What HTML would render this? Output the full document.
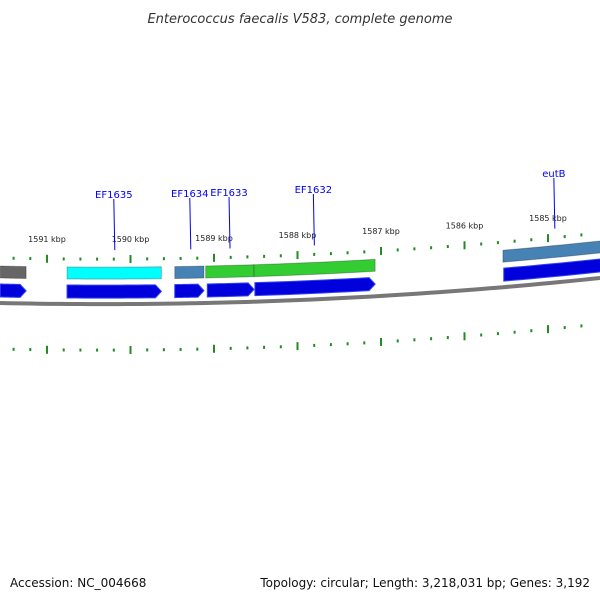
<!DOCTYPE html>
<html><head><meta charset="utf-8"><style>
body{margin:0;background:#fff}
svg{display:block;font-family:"DejaVu Sans","Liberation Sans",sans-serif}
</style></head><body>
<svg id="map" width="600" height="600" viewBox="0 0 600 600">
<text x="300" y="23" text-anchor="middle" font-size="13" font-style="italic" fill="#333">Enterococcus faecalis V583, complete genome</text>
<text x="10" y="587" font-size="12" fill="#111">Accession: NC_004668</text>
<text x="590" y="587" text-anchor="end" font-size="12" fill="#111">Topology: circular; Length: 3,218,031 bp; Genes: 3,192</text>
<g id="g"></g>
</svg>
<script>
// data (kbp)
const tickMajors = [1591,1590,1589,1588,1587,1586,1585];
const topGeneStarts = [1591.56,1590.76,1589.47,1589.10,1588.52,1585.54];
const topGeneEnds   = [1591.25,1589.63,1589.12,1588.52,1587.07,1584.2];
const topGeneColors = ["#666666","#00ffff","#4682b4","#33cc33","#33cc33","#4682b4"];
const arrowStarts = [1591.56,1590.76,1589.47,1589.08,1588.51,1585.53];
const arrowEnds   = [1591.25,1589.63,1589.12,1588.52,1587.07,1584.2];
const labelNames = ["EF1635","EF1634","EF1633","EF1632","eutB"];
const labelPos   = [1590.2,1589.29,1588.82,1587.81,1584.93];
const labelY     = [194,193,192,189,173];

const NS="http://www.w3.org/2000/svg", g=document.getElementById('g');
const X = k => 47 + (1591-k)*83.5;
const Y = x => 303 + 0.0217*x - 1.056e-4*x*x;
function mk(t,a){const e=document.createElementNS(NS,t);for(const k in a)e.setAttribute(k,a[k]);g.appendChild(e);return e;}
function band(x1,x2,o1,o2){let p=[];for(let i=0;i<=10;i++){const x=x1+(x2-x1)*i/10;p.push(x+","+(Y(x)+o1));}
 for(let i=10;i>=0;i--){const x=x1+(x2-x1)*i/10;p.push(x+","+(Y(x)+o2));}return p.join(" ");}
// backbone
let bp=[];for(let x=0;x<=600;x+=10)bp.push(x+","+Y(x));
let bb=mk('polyline',{points:bp.join(" "),fill:"none",stroke:"#777","stroke-width":4});


// ticks
for(let k=1591.6;k>=1584.4;k-=0.2){
 const kk=Math.round(k*10)/10, x=X(kk); if(x<0||x>600)continue;
 const major=tickMajors.includes(kk);
 [-45,46].forEach(o=>{const y=Y(x)+o;
  const t=mk('line',{x1:x,x2:x,y1:y-(major?4:1.5),y2:y+(major?4:1.5),stroke:"#228b22","stroke-width":2});
  
  });
}
tickMajors.forEach(k=>{const x=X(k);
 const t=mk('text',{x:x,y:Y(x)-62,"text-anchor":"middle","font-size":8,fill:"#222"});t.textContent=k+" kbp";
 
 });
// top genes
topGeneStarts.forEach((s,i)=>{const x1=X(s),x2=Math.min(X(topGeneEnds[i]),601);
 const p=mk('polygon',{points:band(x1,x2,-37,-25),fill:topGeneColors[i],stroke:"rgba(0,0,0,0.25)","stroke-width":1});
 
 });
// arrows
arrowStarts.forEach((s,i)=>{const x1=X(s),x2raw=X(arrowEnds[i]),cut=x2raw>600;const x2=cut?601:x2raw-6;
 let pts=band(x1,x2,-19,-6).split(" ");
 if(!cut){const h=pts.length/2;pts.splice(h,0,(x2+6)+","+(Y(x2)-12.5));}
 const p=mk('polygon',{points:pts.join(" "),fill:"#0000dd",stroke:"#3344ee","stroke-width":1});
 
 });
// labels
labelNames.forEach((n,i)=>{const x=X(labelPos[i]);
 const l=mk('line',{x1:x,x2:x+1,y1:labelY[i]+5,y2:Y(x)-54,stroke:"#0000ee","stroke-width":1});
 
 
 const t=mk('text',{x:x,y:labelY[i]+4,"text-anchor":"middle","font-size":10,fill:"#0000ee"});t.textContent=n;
 
 });
</script>
</body></html>
